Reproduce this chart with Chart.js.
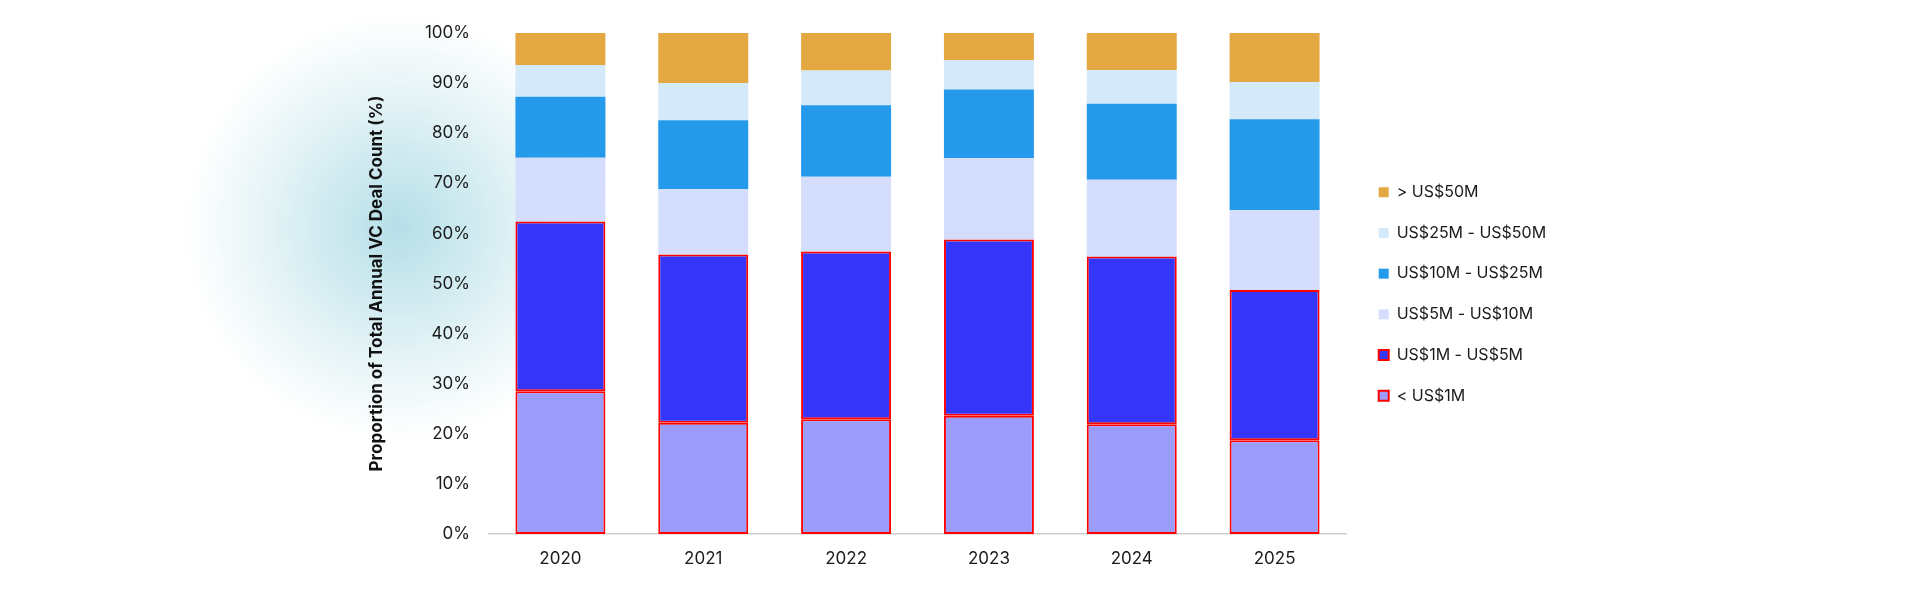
<!DOCTYPE html>
<html>
<head>
<meta charset="utf-8">
<script src="https://cdn.jsdelivr.net/npm/chart.js@4/dist/chart.umd.min.js"></script>
<style>
  html, body { margin: 0; padding: 0; background: #fff; }
  #wrap {
    width: 1920px; height: 593px; position: relative;
    background: radial-gradient(circle 215px at 398px 227px, #b6dfe8 0%, #cce9ef 30%, #e4f3f6 60%, #f6fbfc 85%, #ffffff 100%);
  }
</style>
</head>
<body>
<div id="wrap"><canvas id="dealChart"></canvas></div>
<script>
// categories and series (share of annual VC deal count, %)
const years = ["2020", "2021", "2022", "2023", "2024", "2025"];
const under1M = [28.5, 22.2, 22.9, 23.6, 21.9, 18.7];
const from1to5M = [33.9, 33.6, 33.5, 35.2, 33.5, 30.0];
const from5to10M = [12.7, 13.0, 14.9, 16.2, 15.3, 15.9];
const from10to25M = [12.2, 13.8, 14.3, 13.7, 15.2, 18.2];
const from25to50M = [6.3, 7.4, 6.9, 5.9, 6.7, 7.4];
const over50M = [6.4, 10.0, 7.5, 5.4, 7.4, 9.8];
const yTicks = [0, 10, 20, 30, 40, 50, 60, 70, 80, 90, 100];

const font = "Inter, 'Noto Sans', sans-serif";

// nudge the legend to sit where the original has it
const legendShift = {
  id: 'legendShift',
  afterLayout(chart) {
    const lg = chart.legend;
    lg.left += 8; lg.right += 8;
    lg.top -= 19; lg.bottom -= 19;
  }
};

new Chart(document.getElementById("dealChart"), {
  type: 'bar',
  data: {
    labels: years,
    datasets: [
      { label: "< US$1M", data: under1M, backgroundColor: "#9c9cfc", borderColor: "#ff0000", borderWidth: 2, borderSkipped: false },
      { label: "US$1M - US$5M", data: from1to5M, backgroundColor: "#3636fa", borderColor: "#ff0000", borderWidth: 2, borderSkipped: false },
      { label: "US$5M - US$10M", data: from5to10M, backgroundColor: "#d4defc", borderWidth: 0 },
      { label: "US$10M - US$25M", data: from10to25M, backgroundColor: "#2599ea", borderWidth: 0 },
      { label: "US$25M - US$50M", data: from25to50M, backgroundColor: "#d4eafa", borderWidth: 0 },
      { label: "> US$50M", data: over50M, backgroundColor: "#e3a842", borderWidth: 0 }
    ]
  },
  options: {
    responsive: true,
    maintainAspectRatio: false,
    animation: false,
    layout: { padding: { left: 358, top: 33, right: 0, bottom: 0 } },
    datasets: { bar: { categoryPercentage: 1, barPercentage: 0.63 } },
    scales: {
      x: {
        stacked: true,
        grid: { display: false, drawTicks: false },
        border: { display: true, color: "#cfcfcf", width: 1.5 },
        ticks: { color: "#1a1a1a", padding: 15, font: { family: font, size: 17 } },
        afterFit(s) { s.height = 59; }
      },
      y: {
        stacked: true,
        min: 0, max: 100,
        afterBuildTicks(s) { s.ticks = yTicks.map(v => ({ value: v })); },
        grid: { display: false, drawTicks: false },
        border: { display: false },
        ticks: { color: "#1a1a1a", padding: 19, font: { family: font, size: 17 }, callback: v => v + "%" },
        title: {
          display: true,
          text: "Proportion of Total Annual VC Deal Count (%)",
          color: "#111",
          padding: { top: 9, bottom: 0 },
          font: { family: font, size: 17, weight: 'bold' }
        },
        afterFit(s) { s.width = 131; }
      }
    },
    plugins: {
      tooltip: { enabled: false },
      legend: {
        position: 'right',
        reverse: true,
        labels: {
          boxWidth: 10,
          boxHeight: 10,
          padding: 24.7,
          color: "#1a1a1a",
          font: { family: font, size: 16 }
        }
      }
    }
  },
  plugins: [legendShift, {
    id: 'legendWidth',
    beforeInit(chart) {
      const lg = chart.legend;
      const fit = lg.fit.bind(lg);
      lg.fit = function () { fit(); this.width = 1920 - 1346; };
    }
  }]
});
</script>
</body>
</html>
